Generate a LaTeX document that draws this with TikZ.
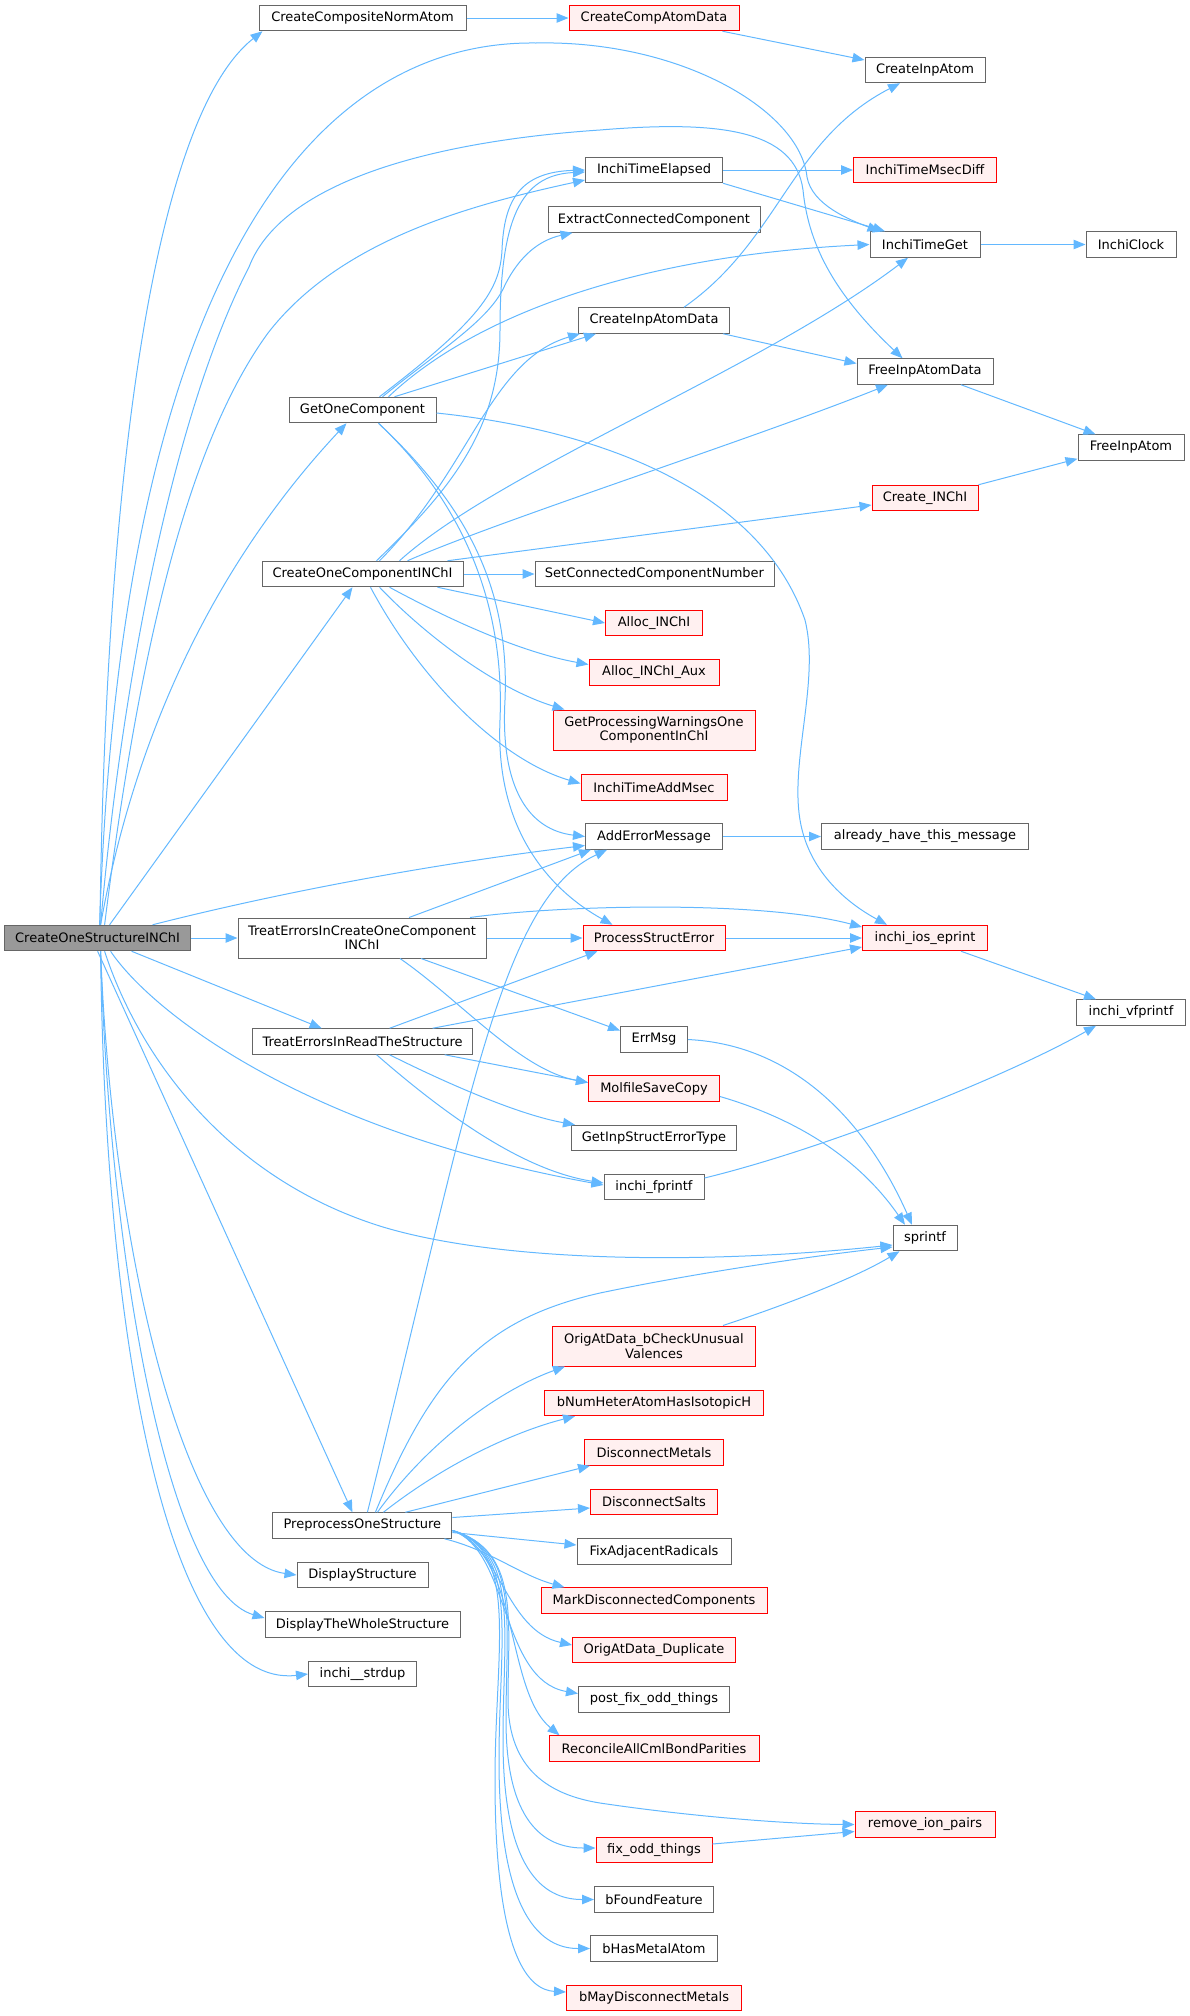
\documentclass[tikz,border=0pt]{standalone}
\usepackage{fontspec}
\setmainfont{DejaVu Sans}
\usetikzlibrary{arrows.meta}
\definecolor{edgec}{HTML}{63B8FF}
\definecolor{bordg}{HTML}{666666}
\definecolor{redb}{HTML}{FF0000}
\definecolor{redf}{HTML}{FFF0F0}
\definecolor{mainf}{HTML}{999999}
\begin{document}
\begin{tikzpicture}[x=1pt,y=-1pt,
  box/.style={draw=bordg, fill=white, line width=1pt, minimum height=25.5pt, inner sep=0pt,
              font=\fontsize{13}{14.5}\selectfont, align=center},
  hot/.style={box, draw=redb, fill=redf},
  root/.style={box, fill=mainf},
  tall/.style={minimum height=40pt},
  edge/.style={draw=edgec, line width=1pt, -{Triangle[length=12pt,width=9.5pt]}}]
\useasboundingbox (0,0) rectangle (1189,2016);

% ---------- nodes ----------
\node[root, minimum width=186pt] (COS) at (97.6,938) {CreateOneStructureINChI};
\node[box, minimum width=207pt] (CCNA) at (362.5,18) {CreateCompositeNormAtom};
\node[hot, minimum width=170pt] (CCAD) at (654,18) {CreateCompAtomData};
\node[box, minimum width=120pt] (CIA) at (925,70) {CreateInpAtom};
\node[box, minimum width=137pt] (ITE) at (654,170) {InchiTimeElapsed};
\node[hot, minimum width=143pt] (ITMD) at (925,170) {InchiTimeMsecDiff};
\node[box, minimum width=212pt] (ECC) at (654,219.5) {ExtractConnectedComponent};
\node[box, minimum width=110pt] (ITG) at (925,244.5) {InchiTimeGet};
\node[box, minimum width=90pt] (IC) at (1131,244.5) {InchiClock};
\node[box, minimum width=151pt] (CIAD) at (654,320.5) {CreateInpAtomData};
\node[box, minimum width=136pt] (FIAD) at (925,371.5) {FreeInpAtomData};
\node[box, minimum width=147pt] (GOC) at (362.5,410) {GetOneComponent};
\node[box, minimum width=106pt] (FIA) at (1131,447.5) {FreeInpAtom};
\node[hot, minimum width=106pt] (CI) at (925,498) {Create\_INChI};
\node[box, minimum width=201pt] (COC) at (362.5,574) {CreateOneComponentINChI};
\node[box, minimum width=239pt] (SCCN) at (654.5,574) {SetConnectedComponentNumber};
\node[hot, minimum width=97pt] (AI) at (654,623) {Alloc\_INChI};
\node[hot, minimum width=130pt] (AIA) at (654,672.5) {Alloc\_INChI\_Aux};
\node[hot, tall, minimum width=202pt] (GPW) at (654,730) {GetProcessingWarningsOne\\ComponentInChI};
\node[hot, minimum width=146pt] (ITAM) at (654,787.5) {InchiTimeAddMsec};
\node[box, minimum width=137pt] (AEM) at (654,836.5) {AddErrorMessage};
\node[box, minimum width=207pt] (AHTM) at (925,836.5) {already\_have\_this\_message};
\node[box, tall, minimum width=248pt] (TEC) at (362,938) {TreatErrorsInCreateOneComponent\\INChI};
\node[hot, minimum width=142pt] (PSE) at (654,938) {ProcessStructError};
\node[hot, minimum width=125pt] (IIE) at (925,938) {inchi\_ios\_eprint};
\node[box, minimum width=109pt] (IVF) at (1131,1012.5) {inchi\_vfprintf};
\node[box, minimum width=67pt] (ERR) at (654,1039.5) {ErrMsg};
\node[box, minimum width=220pt] (TER) at (362.6,1041.5) {TreatErrorsInReadTheStructure};
\node[hot, minimum width=131pt] (MSC) at (654,1088.5) {MolfileSaveCopy};
\node[box, minimum width=165pt] (GISET) at (654,1138) {GetInpStructErrorType};
\node[box, minimum width=100pt] (IFP) at (654,1187) {inchi\_fprintf};
\node[box, minimum width=64pt] (SPR) at (925,1238) {sprintf};
\node[hot, tall, minimum width=203pt] (OAD) at (654,1346) {OrigAtData\_bCheckUnusual\\Valences};
\node[hot, minimum width=219pt] (BNH) at (654,1403) {bNumHeterAtomHasIsotopicH};
\node[hot, minimum width=139pt] (DM) at (654,1452.5) {DisconnectMetals};
\node[hot, minimum width=127pt] (DS) at (654,1502) {DisconnectSalts};
\node[box, minimum width=179pt] (POS) at (362.4,1525.5) {PreprocessOneStructure};
\node[box, minimum width=154pt] (FAR) at (654,1551.5) {FixAdjacentRadicals};
\node[box, minimum width=131pt] (DSt) at (362.5,1575) {DisplayStructure};
\node[hot, minimum width=226pt] (MDC) at (654,1600.5) {MarkDisconnectedComponents};
\node[box, minimum width=195pt] (DTWS) at (362.5,1624.5) {DisplayTheWholeStructure};
\node[hot, minimum width=163pt] (OADup) at (654,1650) {OrigAtData\_Duplicate};
\node[box, minimum width=108pt] (IS) at (362.5,1674) {inchi\_\_strdup};
\node[box, minimum width=151pt] (PFOT) at (654,1699.5) {post\_fix\_odd\_things};
\node[hot, minimum width=210pt] (RACBP) at (654,1748.5) {ReconcileAllCmlBondParities};
\node[hot, minimum width=140pt] (RIP) at (925,1824.5) {remove\_ion\_pairs};
\node[hot, minimum width=116pt] (FOT) at (654,1850) {fix\_odd\_things};
\node[box, minimum width=119pt] (BFF) at (654,1899.5) {bFoundFeature};
\node[box, minimum width=127pt] (BHMA) at (654,1948.5) {bHasMetalAtom};
\node[hot, minimum width=175pt] (BMDM) at (654,1998) {bMayDisconnectMetals};

% ---------- edges from CreateOneStructureINChI ----------
\draw[edge] ([xshift=2.4pt]COS.north) .. controls (105,500) and (150,120) .. ([xshift=4pt]CCNA.south west);
\draw[edge] ([xshift=2pt]COS.north) .. controls (120,300) and (300,40) .. (536,43)
  .. controls (680,40) and (800,110) .. (807,177) .. controls (812,205) and (850,220) .. ([xshift=10pt]ITG.north west);
\draw[edge] ([xshift=3pt]COS.north) .. controls (120,700) and (170,420) .. (249,267)
  .. controls (284,176) and (450,140) .. (600,130) .. controls (720,120) and (795,130) .. (803,190)
  .. controls (808,240) and (830,290) .. ([xshift=46pt]FIAD.north west);
\draw[edge] ([xshift=7pt]COS.north) .. controls (140,640) and (190,440) .. (268,333)
  .. controls (340,240) and (470,205) .. ([yshift=-10pt]ITE.west);
\draw[edge] ([xshift=12pt]COS.north) -- ([xshift=-10pt]COC.south);
\draw[edge] ([xshift=3pt]COS.north) .. controls (130,760) and (200,580) .. ([xshift=-16pt]GOC.south);
\draw[edge] ([xshift=55pt]COS.north) .. controls (250,900) and (400,868) .. ([yshift=-9pt]AEM.west);
\draw[edge] (COS.east) -- (TEC.west);
\draw[edge] ([xshift=34pt]COS.south) -- ([xshift=-41pt]TER.north);
\draw[edge] ([xshift=13pt]COS.south) .. controls (150,1010) and (300,1130) .. ([yshift=2pt]IFP.west);
\draw[edge] ([xshift=7pt]COS.south) .. controls (140,1060) and (230,1180) .. (383,1227)
  .. controls (500,1262) and (700,1265) .. ([yshift=-7pt]SPR.west);
\draw[edge] (COS.south) -- ([xshift=-10pt]POS.north);
\draw[edge] ([xshift=3pt]COS.south) .. controls (112,1250) and (185,1560) .. (DSt.west);
\draw[edge] ([xshift=3pt]COS.south) .. controls (110,1270) and (170,1590) .. ([yshift=6.5pt]DTWS.west);
\draw[edge] ([xshift=3pt]COS.south) .. controls (105,1350) and (170,1690) .. (IS.west);

% ---------- GetOneComponent ----------
\draw[edge] ([xshift=17pt]GOC.north) .. controls (480,320) and (500,290) .. (502,250)
  .. controls (504,200) and (520,172) .. (ITE.west);
\draw[edge] ([xshift=20pt]GOC.north) .. controls (440,350) and (490,320) .. (505,285)
  .. controls (520,255) and (540,240) .. ([xshift=25pt]ECC.south west);
\draw[edge] ([xshift=26pt]GOC.north) .. controls (480,310) and (650,255) .. (ITG.west);
\draw[edge] ([xshift=32pt]GOC.north) -- ([xshift=18pt]CIAD.south west);
\draw[edge] ([yshift=-3pt]GOC.east) .. controls (600,430) and (760,490) .. (805,620)
  .. controls (820,680) and (790,760) .. (800,820) .. controls (810,880) and (860,910) .. ([xshift=25pt]IIE.north west);
\draw[edge] ([xshift=16pt]GOC.south) .. controls (460,500) and (510,580) .. (505,700)
  .. controls (500,790) and (530,830) .. (AEM.west);
\draw[edge] ([xshift=16pt]GOC.south) .. controls (460,500) and (505,600) .. (500,720)
  .. controls (495,830) and (550,890) .. ([xshift=30pt]PSE.north west);

% ---------- CreateOneComponentINChI ----------
\draw[edge] (COC.east) -- (SCCN.west);
\draw[edge] ([xshift=75pt]COC.south) -- (AI.west);
\draw[edge] ([xshift=27pt]COC.south) .. controls (450,620) and (520,652) .. ([yshift=8pt]AIA.west);
\draw[edge] ([xshift=17pt]COC.south) .. controls (430,640) and (500,690) .. ([xshift=12pt]GPW.north west);
\draw[edge] ([xshift=8pt]COC.south) .. controls (420,680) and (500,760) .. ([yshift=4pt]ITAM.west);
\draw[edge] ([xshift=14pt]COC.north) .. controls (450,490) and (500,430) .. (500,330)
  .. controls (500,220) and (520,175) .. ([yshift=-2pt]ITE.west);
\draw[edge] ([xshift=17pt]COC.north) .. controls (470,470) and (490,360) .. ([xshift=2pt]CIAD.south west);
\draw[edge] ([xshift=37pt]COC.north) .. controls (500,470) and (760,370) .. ([xshift=-17pt]ITG.south);
\draw[edge] ([xshift=45pt]COC.north) .. controls (500,520) and (750,440) .. ([xshift=-37pt]FIAD.south);
\draw[edge] ([xshift=85pt]COC.north) -- ([yshift=-7pt]CI.west);

% ---------- TreatErrorsInCreateOneComponentINChI ----------
\draw[edge] ([xshift=47pt]TEC.north) -- ([xshift=6pt]AEM.south west);
\draw[edge] ([xshift=108pt]TEC.north) .. controls (560,905) and (760,900) .. ([yshift=11pt]IIE.west);
\draw[edge] (TEC.east) -- (PSE.west);
\draw[edge] ([xshift=59pt]TEC.south) -- ([yshift=9pt]ERR.west);
\draw[edge] ([xshift=38pt]TEC.south) .. controls (460,1000) and (520,1070) .. ([yshift=6pt]MSC.west);

% ---------- TreatErrorsInReadTheStructure ----------
\draw[edge] ([xshift=27pt]TER.north) -- ([xshift=15pt]PSE.south west);
\draw[edge] ([xshift=70pt]TER.north) -- ([yshift=-9pt]IIE.west);
\draw[edge] ([xshift=82pt]TER.south) -- ([yshift=6pt]MSC.west);
\draw[edge] ([xshift=27pt]TER.south) .. controls (450,1085) and (520,1115) .. ([xshift=4pt]GISET.north west);
\draw[edge] ([xshift=14pt]TER.south) .. controls (440,1110) and (520,1170) .. ([yshift=4pt]IFP.west);

% ---------- right-hand links ----------
\draw[edge] (CCNA.east) -- (CCAD.west);
\draw[edge] ([xshift=-17pt]CCAD.south east) -- ([yshift=10pt]CIA.west);
\draw[edge] ([xshift=30pt]CIAD.north) .. controls (780,240) and (790,140) .. ([xshift=-25pt]CIA.south);
\draw[edge] ([xshift=-7pt]CIAD.south east) -- ([yshift=8pt]FIAD.west);
\draw[edge] (ITE.east) -- (ITMD.west);
\draw[edge] (ITE.south east) -- ([xshift=-40pt]ITG.north);
\draw[edge] (ITG.east) -- (IC.west);
\draw[edge] ([xshift=36pt]FIAD.south) -- ([xshift=18pt]FIA.north west);
\draw[edge] (CI.north east) -- ([yshift=2pt]FIA.south west);
\draw[edge] (AEM.east) -- (AHTM.west);
\draw[edge] (PSE.east) -- (IIE.west);
\draw[edge] ([xshift=36pt]IIE.south) -- ([xshift=20pt]IVF.north west);
\draw[edge] ([yshift=9pt]IFP.east) .. controls (820,1150) and (1000,1080) .. ([xshift=20pt]IVF.south west);
\draw[edge] (ERR.east) .. controls (800,1045) and (870,1130) .. ([xshift=-13pt]SPR.north);
\draw[edge] ([yshift=-8pt]MSC.east) .. controls (800,1120) and (860,1160) .. ([xshift=-20pt]SPR.north);
\draw[edge] ([xshift=-33pt]OAD.north east) .. controls (800,1300) and (860,1275) .. ([xshift=7pt]SPR.south west);
\draw[edge] ([yshift=6pt]FOT.east) -- ([yshift=-7pt]RIP.west);

% ---------- PreprocessOneStructure ----------
\draw[edge] ([xshift=5pt]POS.north) .. controls (470,1100) and (500,900) .. ([xshift=22pt]AEM.south west);
\draw[edge] ([xshift=13pt]POS.north) .. controls (430,1380) and (480,1320) .. (600,1293)
  .. controls (700,1272) and (820,1255) .. ([yshift=-9pt]SPR.west);
\draw[edge] ([xshift=15pt]POS.north) .. controls (430,1440) and (500,1390) .. ([xshift=13pt]OAD.south west);
\draw[edge] ([xshift=21pt]POS.north) .. controls (450,1460) and (520,1430) .. ([xshift=31pt]BNH.south west);
\draw[edge] ([xshift=43pt]POS.north) -- ([xshift=6pt]DM.south west);
\draw[edge] ([yshift=8pt]POS.east) -- ([yshift=-6pt]DS.west);
\draw[edge] ([yshift=-7pt]POS.east) -- ([yshift=6.5pt]FAR.west);
\draw[edge] ([xshift=-8pt]POS.south east) .. controls (490,1550) and (520,1575) .. ([xshift=24pt]MDC.north west);
\draw[edge] ([yshift=-5pt]POS.east) .. controls (500,1545) and (505,1630) .. ([yshift=5pt]OADup.west);
\draw[edge] ([yshift=-5pt]POS.east) .. controls (510,1550) and (500,1680) .. ([yshift=6pt]PFOT.west);
\draw[edge] ([yshift=-5pt]POS.east) .. controls (520,1555) and (505,1690) .. ([xshift=11pt]RACBP.north west);
\draw[edge] ([yshift=-5pt]POS.east) .. controls (520,1550) and (508,1620) .. (508,1700)
  .. controls (508,1770) and (550,1795) .. (600,1803) .. controls (680,1815) and (780,1824) .. (RIP.west);
\draw[edge] ([yshift=-5pt]POS.east) .. controls (520,1550) and (506,1620) .. (506,1720)
  .. controls (506,1830) and (550,1848) .. ([yshift=2pt]FOT.west);
\draw[edge] ([yshift=-5pt]POS.east) .. controls (520,1550) and (503,1630) .. (503,1740)
  .. controls (503,1880) and (550,1899.5) .. (BFF.west);
\draw[edge] ([yshift=-5pt]POS.east) .. controls (520,1550) and (499,1640) .. (499,1760)
  .. controls (499,1930) and (550,1948.5) .. (BHMA.west);
\draw[edge] ([yshift=-5pt]POS.east) .. controls (520,1550) and (495,1650) .. (495,1780)
  .. controls (495,1960) and (530,1990) .. ([yshift=6pt]BMDM.west);
\end{tikzpicture}
\end{document}
